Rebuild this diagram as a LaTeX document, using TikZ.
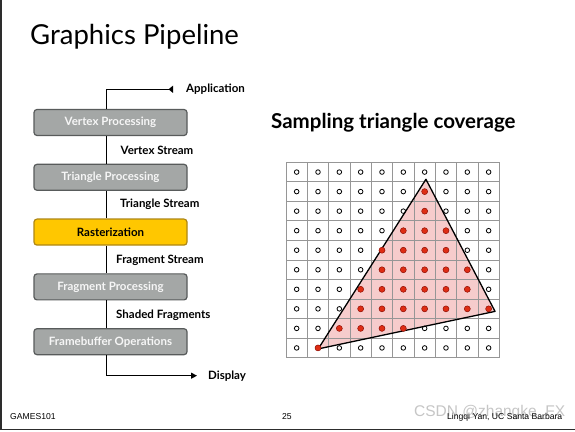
\documentclass[tikz,border=0pt]{standalone}
\usepackage{fontspec}
\setmainfont{Lato}
\newfontfamily\arialfont{Liberation Sans}
\usetikzlibrary{positioning,arrows.meta}

\begin{document}
\begin{tikzpicture}[x=1pt,y=1pt,
  stage/.style={draw=boxLine,line width=1.2pt,rounded corners=3pt,fill=boxFill,
    minimum width=153pt,minimum height=26pt,inner sep=0pt,
    text=boxText,font=\fontsize{11.5}{12}\selectfont\bfseries},
  raster/.style={stage,draw=rasLine,fill=rasFill,text=black},
  flow/.style={line width=1.2pt,draw=black},
  streamlabel/.style={anchor=west,inner sep=0pt,font=\fontsize{11.5}{12}\selectfont\bfseries},
  footer/.style={anchor=base west,inner sep=0pt,font=\arialfont\fontsize{8.6}{10}\selectfont}]
\definecolor{boxFill}{RGB}{164,167,166}
\definecolor{boxLine}{RGB}{88,91,91}
\definecolor{boxText}{RGB}{246,246,246}
\definecolor{rasFill}{RGB}{255,199,0}
\definecolor{rasLine}{RGB}{175,135,20}
\definecolor{gridColor}{RGB}{150,150,150}
\definecolor{triFill}{RGB}{246,204,204}
\definecolor{dotFill}{RGB}{222,45,20}
\definecolor{dotLine}{RGB}{150,20,10}
\definecolor{frameColor}{RGB}{45,45,45}
\path[use as bounding box,fill=white] (0,0) rectangle (575,431);

% slide frame
\path[draw=frameColor,line width=1.2pt] (1,431) -- (1,1.7) -- (575,1.7);

% title
\node[anchor=base west,inner sep=0pt,font=\fontsize{27.5}{30}\selectfont] (title) at (30,386) {Graphics Pipeline};

% pipeline stages
\node[stage] (vp) at (110.5,308.5) {Vertex Processing};
\node[stage,below=27.6pt of vp] (tp) {Triangle Processing};
\node[raster,below=27.6pt of tp] (ras) {Rasterization};
\node[stage,below=27.6pt of ras] (fp) {Fragment Processing};
\node[stage,below=27.6pt of fp] (fb) {Framebuffer Operations};

\draw[flow] ([xshift=-3.8pt]vp.south) -- ([xshift=-3.8pt]tp.north);
\draw[flow] ([xshift=-3.8pt]tp.south) -- ([xshift=-3.8pt]ras.north);
\draw[flow] ([xshift=-3.8pt]ras.south) -- ([xshift=-3.8pt]fp.north);
\draw[flow] ([xshift=-3.8pt]fp.south) -- ([xshift=-3.8pt]fb.north);

\node[streamlabel] (vs) at (120.5,281) {Vertex Stream};
\node[streamlabel] (ts) at (120,226.7) {Triangle Stream};
\node[streamlabel] (fs) at (116,170.7) {Fragment Stream};
\node[streamlabel] (sf) at (116,115.7) {Shaded Fragments};

% application / display
\node[streamlabel] (app) at (186,341.7) {Application};
\node[streamlabel] (disp) at (208,55.3) {Display};
\coordinate (appEnd) at (173,341.7);
\coordinate (dispEnd) at (197,55.3);
\draw[flow,-{Triangle[reversed,length=4.5pt,width=7pt]}] ([xshift=-3.8pt]vp.north) |- (appEnd);
\draw[flow,-{Triangle[length=6pt,width=6pt]}] ([xshift=-3.8pt]fb.south) |- (dispEnd);

% sampling triangle coverage
\node[anchor=base west,inner sep=0pt,font=\fontsize{20.5}{23}\selectfont\bfseries] (samp) at (271,302) {Sampling triangle coverage};

\begin{scope}[shift={(286,73.3)},x=21.33pt,y=19.54pt]
\path[fill=triFill] (6.56,9.13) -- (1.51,0.45) -- (9.80,2.37) -- cycle;
\draw[gridColor,line width=0.9pt,step={(1,1)}] (0,0) grid (10,10);
\draw[black,line width=1.3pt,line join=round] (6.56,9.13) -- (1.51,0.45) -- (9.80,2.37) -- cycle;
\foreach \i in {0,...,9}
  \foreach \j in {0,...,9}
    \draw[black,line width=0.8pt] (\i+0.5,\j+0.5) circle[radius=2.3pt];
% covered samples (column, row from top)
\foreach \c/\r in {6/1,6/2,5/3,6/3,7/3,4/4,5/4,6/4,7/4,4/5,5/5,6/5,7/5,8/5,
    3/6,4/6,5/6,6/6,7/6,8/6,3/7,4/7,5/7,6/7,7/7,8/7,9/7,2/8,3/8,4/8,5/8,1/9}
  \path[draw=dotLine,fill=dotFill,line width=0.5pt] (\c+0.5,9.5-\r) circle[radius=3pt];
\end{scope}

% footer
\node[footer] (games) at (10,11.5) {GAMES101};
\node[footer] (page) at (282,12) {25};
\node[anchor=base west,inner sep=0pt,text=gray!45,font=\arialfont\fontsize{15.5}{17}\selectfont] (mark) at (414,15) {CSDN @zhangke\_FX};
\node[footer] (author) at (447,12) {Lingqi Yan, UC Santa Barbara};
\end{tikzpicture}
\end{document}
